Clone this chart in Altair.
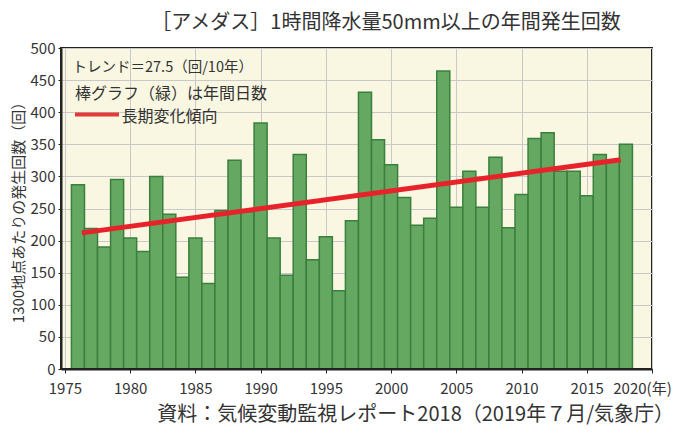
import altair as alt
import pandas as pd

# ---- data ----
years = list(range(1976, 2019))
counts = [287, 219, 190, 295, 204, 183, 300, 241, 143, 204,
          133, 247, 325, 245, 383, 204, 146, 334, 170, 206,
          122, 231, 431, 357, 318, 267, 224, 235, 464, 252,
          308, 252, 330, 220, 272, 359, 368, 308, 308, 270,
          334, 325, 350]
trend_years = [1976.3, 2017.6]
trend_counts = [212, 326]
x_ticks = list(range(1975, 2021, 5))
y_ticks = list(range(0, 501, 50))

title_text = "［アメダス］1時間降水量50mm以上の年間発生回数"
source_text = "資料：気候変動監視レポート2018（2019年７月/気象庁）"
trend_label = "トレンド＝27.5（回/10年）"
bar_label = "棒グラフ（緑）は年間日数"
line_label = "長期変化傾向"
y_title = "1300地点あたりの発生回数（回）"

FONT = "Noto Sans CJK JP"
TXT = "#333333"
DARK = "#222222"
W, H = 591, 321

bars_df = pd.DataFrame({"year": years, "count": counts})
trend_df = pd.DataFrame({"year": trend_years, "count": trend_counts})
one = pd.DataFrame({"k": [0]})

x_scale = alt.Scale(domain=[1974.7, 2020], nice=False, zero=False)
y_scale = alt.Scale(domain=[0, 500], nice=False)

x_axis = alt.Axis(
    values=x_ticks, title=None, format="d", labelOverlap=False, labelFlush=False,
    labelExpr="datum.value == 2020 ? '2020(年)' : datum.label",
    labelOffset={"condition": {"test": "datum.value == 2020", "value": -10}, "value": 0},
    labelFont=FONT, labelFontSize=15, labelColor=TXT, labelPadding=8,
    tickSize=4, tickColor=DARK, domainColor=DARK, domainWidth=2,
    grid=True, gridColor="#c9c9c9", gridWidth=1,
)
y_axis = alt.Axis(
    values=y_ticks, title=y_title, format="d", labelOverlap=False, labelFlush=False,
    labelFont=FONT, labelFontSize=15, labelColor=TXT, labelPadding=3,
    titleFont=FONT, titleFontSize=15, titleFontWeight="normal", titleColor=TXT,
    titlePadding=4,
    tickSize=3, tickColor=DARK, domainColor=DARK, domainWidth=2,
    grid=True, gridColor="#c9c9c9", gridWidth=1,
)

bars = alt.Chart(bars_df).transform_calculate(
    x0="datum.year - 0.5", x1="datum.year + 0.5"
).mark_bar(color="#65a862", stroke="#3a7f3e", strokeWidth=1.5).encode(
    x=alt.X("x0:Q", scale=x_scale, axis=x_axis),
    x2="x1:Q",
    y=alt.Y("count:Q", scale=y_scale, axis=y_axis),
    y2=alt.datum(0),
)

# dark base line drawn above the bars (the chart's bottom frame)
baseline = alt.Chart(one).mark_rule(color=DARK, strokeWidth=2).encode(
    y=alt.YDatum(datum=0, scale=y_scale, axis=y_axis)
)

trend = alt.Chart(trend_df).mark_line(color="#e8222a", strokeWidth=5, strokeCap="butt").encode(
    x=alt.X("year:Q", scale=x_scale, axis=x_axis),
    y=alt.Y("count:Q", scale=y_scale, axis=y_axis),
)

def label(text, x, y, size, align="left"):
    return alt.Chart(pd.DataFrame({"t": [text]})).mark_text(
        align=align, baseline="middle", font=FONT, fontSize=size, color=TXT
    ).encode(x=alt.value(x), y=alt.value(y), text="t:N")

legend_line = alt.Chart(one).mark_rule(color="#e03a3a", strokeWidth=4).encode(
    x=alt.value(14), x2=alt.value(58), y=alt.value(66.5)
)

chart = alt.layer(
    bars,
    baseline,
    trend,
    label(trend_label, 11.5, 19.5, 14.5),
    label(bar_label, 14, 46, 16),
    legend_line,
    label(line_label, 60.5, 69, 16),
    label(title_text, 325, -25, 20, "center"),
    label(source_text, 613, 367, 20, "right"),
).properties(
    width=W, height=H,
    padding={"left": 53, "top": 40, "right": 22, "bottom": 62},
    autosize=alt.AutoSizeParams(type="none"),
).configure_view(
    fill="#f9f7e1", stroke=DARK, strokeWidth=2
)

chart.save("out.html", embed_options={"renderer": "svg", "actions": False})
